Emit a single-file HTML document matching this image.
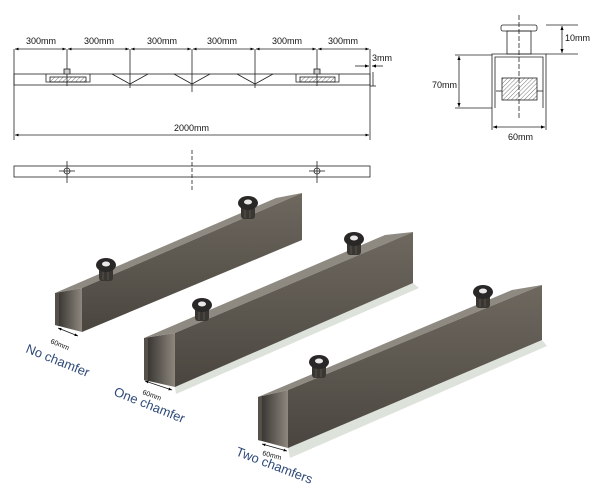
<!DOCTYPE html>
<html><head><meta charset="utf-8"><style>
body{margin:0;background:#fff}
svg{display:block;font-family:"Liberation Sans",sans-serif}
</style></head><body>
<svg width="600" height="494" viewBox="0 0 600 494" xmlns="http://www.w3.org/2000/svg">
<defs>
<marker id="a" viewBox="0 0 10 10" refX="10" refY="5" markerWidth="5" markerHeight="5" orient="auto-start-reverse"><path d="M0,1 L10,5 L0,9z" fill="#000"/></marker>
<pattern id="h" width="3" height="3" patternUnits="userSpaceOnUse" patternTransform="rotate(45)"><line x1="0" y1="0" x2="0" y2="3" stroke="#555" stroke-width="0.8"/></pattern>
<linearGradient id="side" x1="0" y1="0" x2="0" y2="1"><stop offset="0" stop-color="#6e685f"/><stop offset="1" stop-color="#4a463f"/></linearGradient>
<linearGradient id="in" x1="0" y1="0" x2="1" y2="0"><stop offset="0" stop-color="#2e2b27"/><stop offset="1" stop-color="#8d877e"/></linearGradient>
<g id="k"><rect x="-7" y="-1" width="14" height="17" rx="3" fill="#3a3733"/><line x1="-3" y1="2" x2="-3" y2="15" stroke="#55514b"/><line x1="2" y1="2" x2="2" y2="15" stroke="#55514b"/><ellipse cx="0" cy="0" rx="10" ry="7" fill="#2a2826"/><ellipse cx="0" cy="-1" rx="4" ry="2.5" fill="#e8e8e8"/></g>
</defs>
<g stroke="#222" stroke-width="0.8" fill="none">
<rect x="14" y="74" width="356" height="11"/>
<line x1="14" y1="49" x2="14" y2="140"/><line x1="370" y1="49" x2="370" y2="140"/>
<line x1="67" y1="49" x2="67" y2="86"/><line x1="130" y1="49" x2="130" y2="88"/><line x1="192" y1="49" x2="192" y2="92"/><line x1="255" y1="49" x2="255" y2="88"/><line x1="317" y1="49" x2="317" y2="86"/>
<g marker-start="url(#a)" marker-end="url(#a)" stroke-width="0.7">
<line x1="15" y1="49" x2="66" y2="49"/><line x1="68" y1="49" x2="129" y2="49"/><line x1="131" y1="49" x2="191" y2="49"/><line x1="193" y1="49" x2="254" y2="49"/><line x1="256" y1="49" x2="316" y2="49"/><line x1="318" y1="49" x2="369" y2="49"/>
<line x1="15" y1="135" x2="369" y2="135"/>
</g>
<polyline points="112,74 130,84 148,74"/><polyline points="174,74 192,84 210,74"/><polyline points="237,74 255,84 273,74"/>
<polyline points="46,74 46,82 90,82 90,74"/><polyline points="296,74 296,82 339,82 339,74"/>
<rect x="50" y="77" width="36" height="5" fill="url(#h)"/><rect x="300" y="77" width="35" height="5" fill="url(#h)"/>
<rect x="64" y="69" width="6" height="5" fill="#ccc"/><rect x="314" y="69" width="6" height="5" fill="#ccc"/>
<line x1="355" y1="66" x2="369" y2="66" marker-end="url(#a)"/><line x1="383" y1="66" x2="372" y2="66" marker-end="url(#a)"/>
<line x1="373" y1="72" x2="373" y2="86"/><line x1="370" y1="86" x2="376" y2="86"/>
<rect x="14" y="166" width="356" height="11"/>
<circle cx="67" cy="171" r="3"/><circle cx="317" cy="171" r="3"/>
<line x1="59" y1="171" x2="75" y2="171"/><line x1="67" y1="161" x2="67" y2="183"/>
<line x1="309" y1="171" x2="325" y2="171"/><line x1="317" y1="161" x2="317" y2="183"/>
<line x1="192" y1="150" x2="192" y2="190" stroke-dasharray="4,2"/>
<path d="M492,108 V54 H546 V108 M495,108 V57 H543 V108"/>
<rect x="502" y="78" width="35" height="22" fill="url(#h)"/>
<line x1="496" y1="91" x2="502" y2="91"/><line x1="537" y1="91" x2="543" y2="91"/>
<rect x="501" y="25" width="36" height="6" rx="2"/><rect x="507" y="31" width="24" height="23"/>
<line x1="519" y1="15" x2="519" y2="120" stroke-dasharray="5,2"/>
<line x1="546" y1="25" x2="578" y2="25"/><line x1="546" y1="54" x2="578" y2="54"/>
<line x1="562" y1="26" x2="562" y2="53" marker-start="url(#a)" marker-end="url(#a)"/>
<line x1="455" y1="55" x2="492" y2="55"/><line x1="455" y1="108" x2="492" y2="108"/>
<line x1="459" y1="56" x2="459" y2="107" marker-start="url(#a)" marker-end="url(#a)"/>
<line x1="492" y1="108" x2="492" y2="130"/><line x1="546" y1="108" x2="546" y2="130"/>
<line x1="493" y1="127" x2="545" y2="127" marker-start="url(#a)" marker-end="url(#a)"/>
</g>
<g font-size="9" fill="#111">
<text x="26" y="44">300mm</text><text x="84" y="44">300mm</text><text x="147" y="44">300mm</text><text x="207" y="44">300mm</text><text x="272" y="44">300mm</text><text x="328" y="44">300mm</text>
<text x="372" y="61">3mm</text><text x="174" y="131">2000mm</text>
<text x="565" y="41">10mm</text><text x="432" y="88">70mm</text><text x="508" y="140">60mm</text>
</g>
<polygon points="55,293 82,288 82,332 55,325" fill="url(#in)"/>
<polygon points="55,293 82,288 302,193 276,198" fill="#8e8a82"/>
<polygon points="82,288 302,193 302,240 82,332" fill="url(#side)"/>
<polygon points="55,293 59,293 59,325 55,325" fill="#55504a"/>
<polygon points="175,387 413,283 419,288 176,394" fill="#dde2db"/>
<polygon points="144,338 175,333 175,387 144,380" fill="url(#in)"/>
<polygon points="144,338 175,333 413,232 385,235" fill="#8e8a82"/>
<polygon points="175,333 413,232 413,283 175,387" fill="url(#side)"/>
<polygon points="144,338 148,338 148,381 144,380" fill="#55504a"/>
<polygon points="288,448 542,340 547,346 290,458" fill="#dde2db"/>
<polygon points="258,397 288,390 288,448 258,440" fill="url(#in)"/>
<polygon points="258,397 288,390 542,285 512,290" fill="#8e8a82"/>
<polygon points="288,390 542,285 542,340 288,448" fill="url(#side)"/>
<polygon points="258,397 262,396 262,441 258,440" fill="#55504a"/>
<use href="#k" x="248" y="203"/>
<use href="#k" x="106" y="265"/>
<use href="#k" x="354" y="239"/>
<use href="#k" x="202" y="305"/>
<use href="#k" x="483" y="292"/>
<use href="#k" x="319" y="362"/>
<g stroke="#111" stroke-width="0.7">
<line x1="58" y1="328" x2="78" y2="336" marker-start="url(#a)" marker-end="url(#a)"/>
<line x1="145" y1="381" x2="172" y2="390" marker-start="url(#a)" marker-end="url(#a)"/>
<line x1="262" y1="444" x2="287" y2="451" marker-start="url(#a)" marker-end="url(#a)"/>
</g>
<g fill="#111" font-size="7">
<text transform="translate(50,343) rotate(22)">60mm</text>
<text transform="translate(142,394) rotate(20)">60mm</text>
<text transform="translate(262,455) rotate(15)">60mm</text>
</g>
<g fill="#2f4a78" font-size="13">
<text transform="translate(25,352) rotate(22)">No chamfer</text>
<text transform="translate(113,395) rotate(22)">One chamfer</text>
<text transform="translate(235,455) rotate(21)">Two chamfers</text>
</g>
</svg>
</body></html>
